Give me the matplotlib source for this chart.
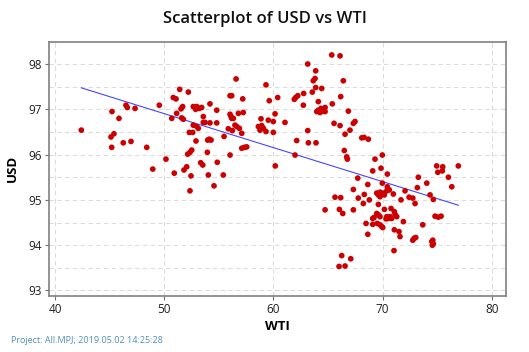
import numpy as np
import matplotlib
matplotlib.use("Agg")
import matplotlib.pyplot as plt

wti = [42.41, 45.22, 45.86, 46.50, 46.62, 47.33, 45.40, 45.13, 45.19, 46.25, 46.96, 48.40, 48.95, 49.55,
       56.58, 51.42, 52.21, 50.83, 51.08, 56.03, 56.18, 57.19, 51.69, 51.54, 52.66, 52.98, 53.21, 53.43,
       52.88, 54.19, 54.81, 51.14, 50.69, 51.60, 51.75, 53.58, 56.03, 56.12, 56.18, 56.33, 56.79, 57.24,
       53.58, 53.74, 54.19, 54.81, 52.66, 52.98, 53.12, 56.48, 56.64, 56.88, 55.87, 52.30, 52.61, 56.24,
       57.10, 55.48, 54.13, 53.98, 54.29, 52.91, 57.10, 57.34, 57.55, 52.52, 52.36, 52.15, 53.95, 56.03,
       50.16, 53.34, 53.53, 54.86, 52.06, 51.81, 50.92, 52.45, 54.04, 55.41, 52.36, 54.56,
       65.34, 66.10, 63.14, 63.87, 66.40, 63.81, 63.65, 59.32, 63.87, 64.42, 63.56, 62.77, 62.23, 62.04,
       61.91, 60.39, 59.62, 66.16, 64.11, 62.74, 65.39, 64.36, 64.73, 64.11, 63.97, 64.51, 64.73, 64.27,
       66.86, 60.15, 58.86, 59.53, 59.99, 61.06, 58.62, 58.93, 59.08, 58.77, 59.32, 59.99, 65.55, 66.10,
       63.14, 66.56, 67.01, 67.32, 67.47, 62.13, 63.20, 63.90, 61.98, 66.49, 66.71, 66.77, 68.09, 68.30,
       68.69, 60.17,
       69.30, 69.97, 69.85, 69.09, 70.43, 73.27, 67.72, 68.64, 69.97, 70.43, 67.32, 72.05, 68.32, 69.46,
       69.76, 70.06, 70.38, 70.61, 69.76, 69.61, 70.16, 70.98, 65.64, 66.16, 67.77, 68.78, 68.23, 69.61,
       71.68, 72.42, 72.76, 72.97, 66.04, 67.32, 70.16, 70.77, 66.35, 64.73, 71.07, 71.14, 71.29, 69.46,
       69.61, 69.76, 69.09, 69.21, 70.38, 70.52, 70.68, 70.83, 70.31, 71.90, 68.48, 69.09, 69.51, 69.76,
       69.92, 70.01, 71.07, 71.50, 71.59, 68.64, 72.76, 72.88, 73.03, 71.04, 66.25, 67.08, 66.01, 66.56,
       74.95, 75.50, 76.93, 75.05, 75.47, 76.02, 76.33, 74.04, 73.18, 74.34, 74.64, 74.80, 75.10, 75.35,
       73.67, 74.50, 74.59, 74.64, 74.55]

usd = [96.54, 96.95, 96.80, 97.09, 97.04, 97.02, 96.46, 96.39, 96.16, 96.26, 96.29, 96.16, 95.68, 97.09,
       97.67, 97.44, 97.38, 97.26, 97.23, 97.30, 97.30, 97.23, 97.06, 97.01, 97.06, 97.06, 97.02, 97.04,
       97.00, 97.12, 96.98, 96.91, 96.80, 96.81, 96.78, 96.84, 96.89, 96.84, 96.80, 96.80, 96.91, 96.93,
       96.71, 96.71, 96.70, 96.70, 96.65, 96.62, 96.58, 96.65, 96.62, 96.58, 96.57, 96.49, 96.49, 96.53,
       96.47, 96.40, 96.34, 96.32, 96.32, 96.30, 96.14, 96.16, 96.17, 96.10, 96.05, 96.01, 96.05, 95.99,
       95.90, 95.82, 95.77, 95.83, 95.73, 95.66, 95.59, 95.53, 95.55, 95.55, 95.20, 95.31,
       98.20, 98.18, 98.00, 97.85, 97.63, 97.68, 97.63, 97.54, 97.48, 97.46, 97.38, 97.35, 97.30, 97.26,
       97.22, 97.26, 97.19, 97.28, 97.17, 97.09, 97.12, 97.02, 97.04, 96.98, 96.95, 96.96, 96.95, 96.93,
       96.96, 96.90, 96.79, 96.76, 96.73, 96.71, 96.62, 96.64, 96.58, 96.54, 96.51, 96.49, 96.69, 96.64,
       96.53, 96.45, 96.54, 96.69, 96.73, 96.31, 96.26, 96.26, 95.99, 96.09, 95.95, 95.90, 96.37, 96.38,
       96.34, 95.75,
       95.90, 95.99, 95.70, 95.64, 95.57, 95.50, 95.48, 95.34, 95.37, 95.29, 95.23, 95.20, 95.12, 95.15,
       95.17, 95.15, 95.20, 95.22, 95.07, 95.11, 95.11, 95.13, 95.06, 95.05, 95.04, 95.00, 94.92, 94.90,
       95.00, 95.06, 95.04, 94.92, 94.79, 94.78, 94.79, 94.81, 94.70, 94.78, 94.74, 94.68, 94.63, 94.70,
       94.67, 94.63, 94.59, 94.61, 94.63, 94.59, 94.63, 94.59, 94.58, 94.52, 94.48, 94.46, 94.48, 94.45,
       94.41, 94.39, 94.34, 94.30, 94.19, 94.24, 94.11, 94.15, 94.17, 93.88, 93.77, 93.70, 93.53, 93.54,
       95.75, 95.73, 95.75, 95.61, 95.64, 95.50, 95.29, 95.37, 95.27, 95.11, 95.01, 94.64, 94.62, 94.64,
       94.45, 94.08, 94.11, 94.03, 94.00]

x_ticks = [40, 50, 60, 70, 80]
y_ticks = [93, 94, 95, 96, 97, 98]

plt.rcParams['font.family'] = ['Open Sans', 'DejaVu Sans']

fig = plt.figure(figsize=(5.29, 3.52), dpi=100)
ax = fig.add_axes([0.0926, 0.160, 0.956 - 0.0926, 0.8807 - 0.160])

x = np.array(wti)
y = np.array(usd)
b, a = np.polyfit(x, y, 1)
xs = np.array([x.min(), x.max()])

ax.set_xlim(39.45, 81.27)
ax.set_ylim(92.885, 98.486)
ax.set_xticks(x_ticks)
ax.set_yticks(y_ticks)
ax.set_yticks(np.arange(93.5, 98.5, 1.0), minor=True)
ax.tick_params(axis='y', which='minor', length=0)
ax.tick_params(axis='both', which='major', direction='out', length=3, width=0.8,
               color='#707070', labelsize=8.5, labelcolor='#202020', pad=2)
ax.grid(True, which='both', axis='y', linestyle=(0, (4, 3)), color='#dcdcdc', linewidth=0.8)
ax.grid(True, which='major', axis='x', linestyle=(0, (4, 3)), color='#dcdcdc', linewidth=0.8)
ax.set_axisbelow(True)
for s in ax.spines.values():
    s.set_color('#808080')
    s.set_linewidth(1.2)

ax.plot(xs, a + b * xs, color='#4646ff', linewidth=0.8, zorder=2)
ax.scatter(x, y, s=17, color='#cc0000', edgecolors='none', zorder=3)

ax.set_xlabel('WTI', fontsize=9.5, fontweight='bold', labelpad=3)
ax.set_ylabel('USD', fontsize=9.5, fontweight='bold', labelpad=7)
fig.text(0.5, 0.946, 'Scatterplot of USD vs WTI', ha='center', va='center', fontsize=12,
         fontweight='semibold', color='#101010')
fig.text(0.021, 0.032, 'Project: All.MPJ; 2019.05.02 14:25:28', ha='left', va='center',
         fontsize=6.5, color='#4f8fbf')

fig.savefig('out.png', dpi=100)
